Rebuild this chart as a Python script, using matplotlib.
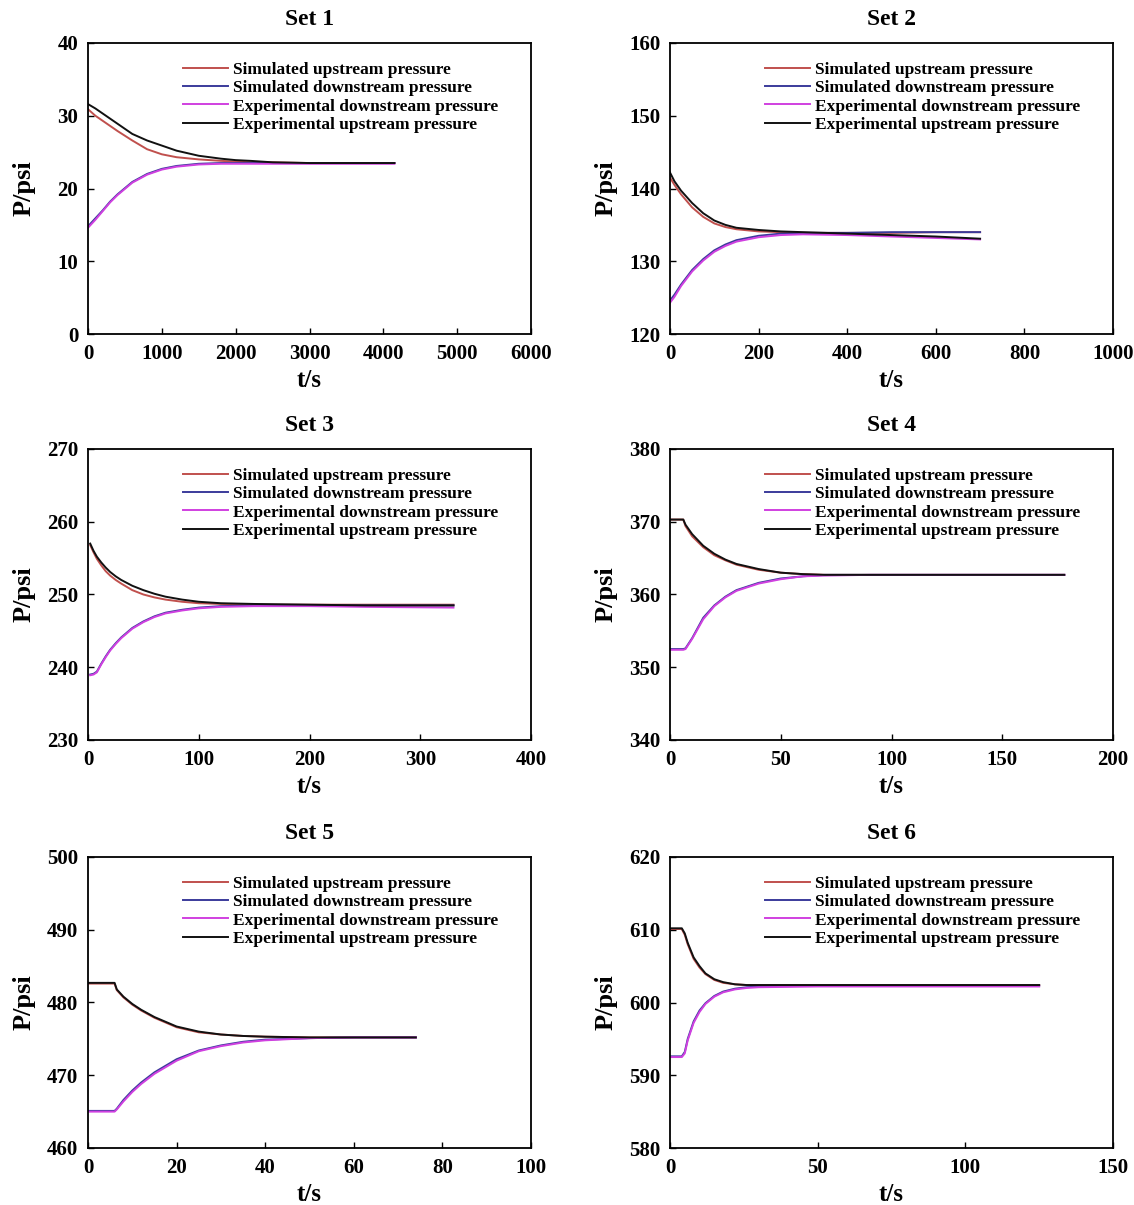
import matplotlib
matplotlib.use("Agg")
import matplotlib.pyplot as plt

plt.rcParams['font.family'] = ['Liberation Serif', 'DejaVu Serif']
plt.rcParams['font.weight'] = 'bold'

# ---------------- data ----------------
titles = ["Set 1", "Set 2", "Set 3", "Set 4", "Set 5", "Set 6"]
labels = ["Simulated upstream pressure", "Simulated downstream pressure",
          "Experimental downstream pressure", "Experimental upstream pressure"]

# Set 1
set1_t = [0, 100, 200, 300, 400, 600, 800, 1000, 1200, 1500, 1800, 2000, 2200, 2500, 3000, 3500, 4150]
set1_sim_up = [30.9, 30.0, 29.3, 28.6, 27.9, 26.6, 25.4, 24.7, 24.3, 24.0, 23.8, 23.7, 23.6, 23.6, 23.5, 23.5, 23.5]
set1_sim_down = [14.8, 15.9, 17.0, 18.2, 19.2, 20.9, 22.0, 22.7, 23.1, 23.4, 23.5, 23.5, 23.5, 23.5, 23.5, 23.5, 23.5]
set1_exp_down = [14.6, 15.7, 16.9, 18.1, 19.1, 20.8, 21.9, 22.6, 23.0, 23.3, 23.4, 23.4, 23.4, 23.4, 23.4, 23.4, 23.4]
set1_exp_up = [31.6, 31.0, 30.3, 29.6, 28.9, 27.5, 26.6, 25.9, 25.2, 24.5, 24.1, 23.9, 23.8, 23.6, 23.5, 23.5, 23.5]

# Set 2
set2_t = [0, 10, 25, 50, 75, 100, 125, 150, 200, 250, 300, 400, 500, 600, 700]
set2_sim_up = [141.5, 140.5, 139.2, 137.4, 136.1, 135.2, 134.7, 134.4, 134.1, 134.0, 133.9, 133.9, 133.9, 134.0, 134.0]
set2_sim_down = [124.6, 125.4, 126.8, 128.8, 130.3, 131.5, 132.3, 132.9, 133.5, 133.8, 133.9, 133.9, 134.0, 134.0, 134.0]
set2_exp_down = [124.3, 125.1, 126.6, 128.6, 130.1, 131.3, 132.1, 132.7, 133.3, 133.6, 133.7, 133.6, 133.4, 133.2, 133.0]
set2_exp_up = [142.2, 141.0, 139.7, 138.0, 136.6, 135.6, 135.0, 134.6, 134.3, 134.1, 134.0, 133.8, 133.6, 133.4, 133.1]

# Set 3
set3_t = [2, 5, 8, 12, 16, 20, 25, 30, 40, 50, 60, 70, 85, 100, 120, 150, 200, 250, 330]
set3_sim_up = [256.8, 255.8, 254.9, 254.0, 253.2, 252.6, 252.0, 251.5, 250.6, 250.0, 249.6, 249.3, 249.0, 248.8, 248.7, 248.6, 248.6, 248.6, 248.6]
set3_sim_down = [239.0, 239.1, 239.4, 240.5, 241.5, 242.4, 243.3, 244.1, 245.4, 246.3, 247.0, 247.5, 247.9, 248.2, 248.4, 248.5, 248.5, 248.5, 248.5]
set3_exp_down = [238.9, 239.0, 239.3, 240.4, 241.4, 242.3, 243.2, 244.0, 245.3, 246.2, 246.9, 247.4, 247.8, 248.1, 248.3, 248.4, 248.4, 248.3, 248.2]
set3_exp_up = [257.0, 256.0, 255.2, 254.4, 253.7, 253.1, 252.5, 252.0, 251.2, 250.6, 250.1, 249.7, 249.3, 249.0, 248.8, 248.7, 248.6, 248.5, 248.5]

# Set 4
set4_t = [0, 6, 7, 10, 15, 20, 25, 30, 40, 50, 60, 70, 90, 120, 150, 178]
set4_sim_up = [370.3, 370.3, 369.4, 368.0, 366.5, 365.4, 364.7, 364.1, 363.4, 363.0, 362.8, 362.7, 362.7, 362.7, 362.7, 362.7]
set4_sim_down = [352.5, 352.5, 352.6, 354.0, 356.8, 358.5, 359.7, 360.6, 361.6, 362.2, 362.5, 362.7, 362.7, 362.7, 362.7, 362.7]
set4_exp_down = [352.4, 352.4, 352.5, 353.9, 356.6, 358.4, 359.6, 360.5, 361.5, 362.1, 362.5, 362.6, 362.7, 362.7, 362.7, 362.7]
set4_exp_up = [370.3, 370.3, 369.6, 368.3, 366.7, 365.6, 364.8, 364.2, 363.5, 363.0, 362.8, 362.7, 362.7, 362.7, 362.7, 362.7]

# Set 5
set5_t = [0, 6, 6.5, 8, 10, 12, 15, 20, 25, 30, 35, 40, 50, 60, 74]
set5_sim_up = [482.6, 482.6, 481.7, 480.7, 479.7, 478.9, 477.9, 476.6, 475.9, 475.6, 475.4, 475.3, 475.2, 475.2, 475.2]
set5_sim_down = [465.1, 465.1, 465.4, 466.6, 467.9, 469.0, 470.4, 472.2, 473.4, 474.1, 474.6, 474.9, 475.1, 475.2, 475.2]
set5_exp_down = [465.0, 465.0, 465.3, 466.4, 467.7, 468.8, 470.2, 472.0, 473.3, 474.0, 474.5, 474.8, 475.1, 475.2, 475.2]
set5_exp_up = [482.7, 482.7, 481.8, 480.8, 479.8, 479.0, 478.0, 476.7, 476.0, 475.6, 475.4, 475.3, 475.2, 475.2, 475.2]

# Set 6
set6_t = [0, 4, 5, 6, 8, 10, 12, 15, 18, 22, 26, 30, 50, 80, 125]
set6_sim_up = [610.1, 610.1, 609.3, 608.0, 606.0, 604.8, 603.9, 603.1, 602.7, 602.5, 602.4, 602.4, 602.4, 602.4, 602.4]
set6_sim_down = [592.6, 592.6, 593.2, 595.0, 597.4, 598.9, 599.9, 600.9, 601.5, 601.9, 602.1, 602.2, 602.3, 602.3, 602.3]
set6_exp_down = [592.5, 592.5, 593.0, 594.8, 597.2, 598.7, 599.8, 600.8, 601.4, 601.8, 602.0, 602.1, 602.2, 602.2, 602.2]
set6_exp_up = [610.2, 610.2, 609.5, 608.2, 606.2, 605.0, 604.0, 603.2, 602.8, 602.5, 602.4, 602.4, 602.4, 602.4, 602.4]

x_limits = [(0, 6000), (0, 1000), (0, 400), (0, 200), (0, 100), (0, 150)]
x_steps = [1000, 200, 100, 50, 20, 50]
y_limits = [(0, 40), (120, 160), (230, 270), (340, 380), (460, 500), (580, 620)]

sets = [
    (set1_t, set1_sim_up, set1_sim_down, set1_exp_down, set1_exp_up),
    (set2_t, set2_sim_up, set2_sim_down, set2_exp_down, set2_exp_up),
    (set3_t, set3_sim_up, set3_sim_down, set3_exp_down, set3_exp_up),
    (set4_t, set4_sim_up, set4_sim_down, set4_exp_down, set4_exp_up),
    (set5_t, set5_sim_up, set5_sim_down, set5_exp_down, set5_exp_up),
    (set6_t, set6_sim_up, set6_sim_down, set6_exp_down, set6_exp_up),
]

colors = ["#c0504d", "#3b3b9b", "#d040e0", "#111111"]

# ---------------- figure ----------------
W, H = 1134, 1205
fig = plt.figure(figsize=(W / 100, H / 100), dpi=100)

col_left = [88, 670]
row_top = [43, 449, 857]
ax_w, ax_h = 443, 291

for i, (t, su, sd, ed, eu) in enumerate(sets):
    r, c = divmod(i, 2)
    left = col_left[c] / W
    bottom = 1 - (row_top[r] + ax_h) / H
    ax = fig.add_axes([left, bottom, ax_w / W, ax_h / H])

    for series, col, lab in zip([su, sd, ed, eu], colors, labels):
        ax.plot(t, series, color=col, lw=1.4, label=lab)

    ax.set_xlim(*x_limits[i])
    ax.set_ylim(*y_limits[i])
    ax.set_xticks(range(x_limits[i][0], x_limits[i][1] + 1, x_steps[i]))
    ax.set_yticks(range(y_limits[i][0], y_limits[i][1] + 1, 10))
    ax.tick_params(direction='in', length=4, width=1, labelsize=15, pad=7)
    for lbl in ax.get_xticklabels() + ax.get_yticklabels():
        lbl.set_fontweight('bold')
    for sp in ax.spines.values():
        sp.set_linewidth(1.3)

    ax.set_title(titles[i], fontsize=17, fontweight='bold', pad=13)
    ax.set_xlabel("t/s", fontsize=18, fontweight='bold', labelpad=4)
    ax.set_ylabel("P/psi", fontsize=19, fontweight='bold')
    ax.yaxis.set_label_coords(-0.118, 0.5)

    ax.legend(loc='upper left', bbox_to_anchor=(0.215, 0.935), frameon=False,
              handlelength=2.6, handletextpad=0.25,
              labelspacing=0.12, borderaxespad=0, borderpad=0,
              prop={'weight': 'bold', 'size': 12.5})

fig.savefig("out.png", dpi=100)
